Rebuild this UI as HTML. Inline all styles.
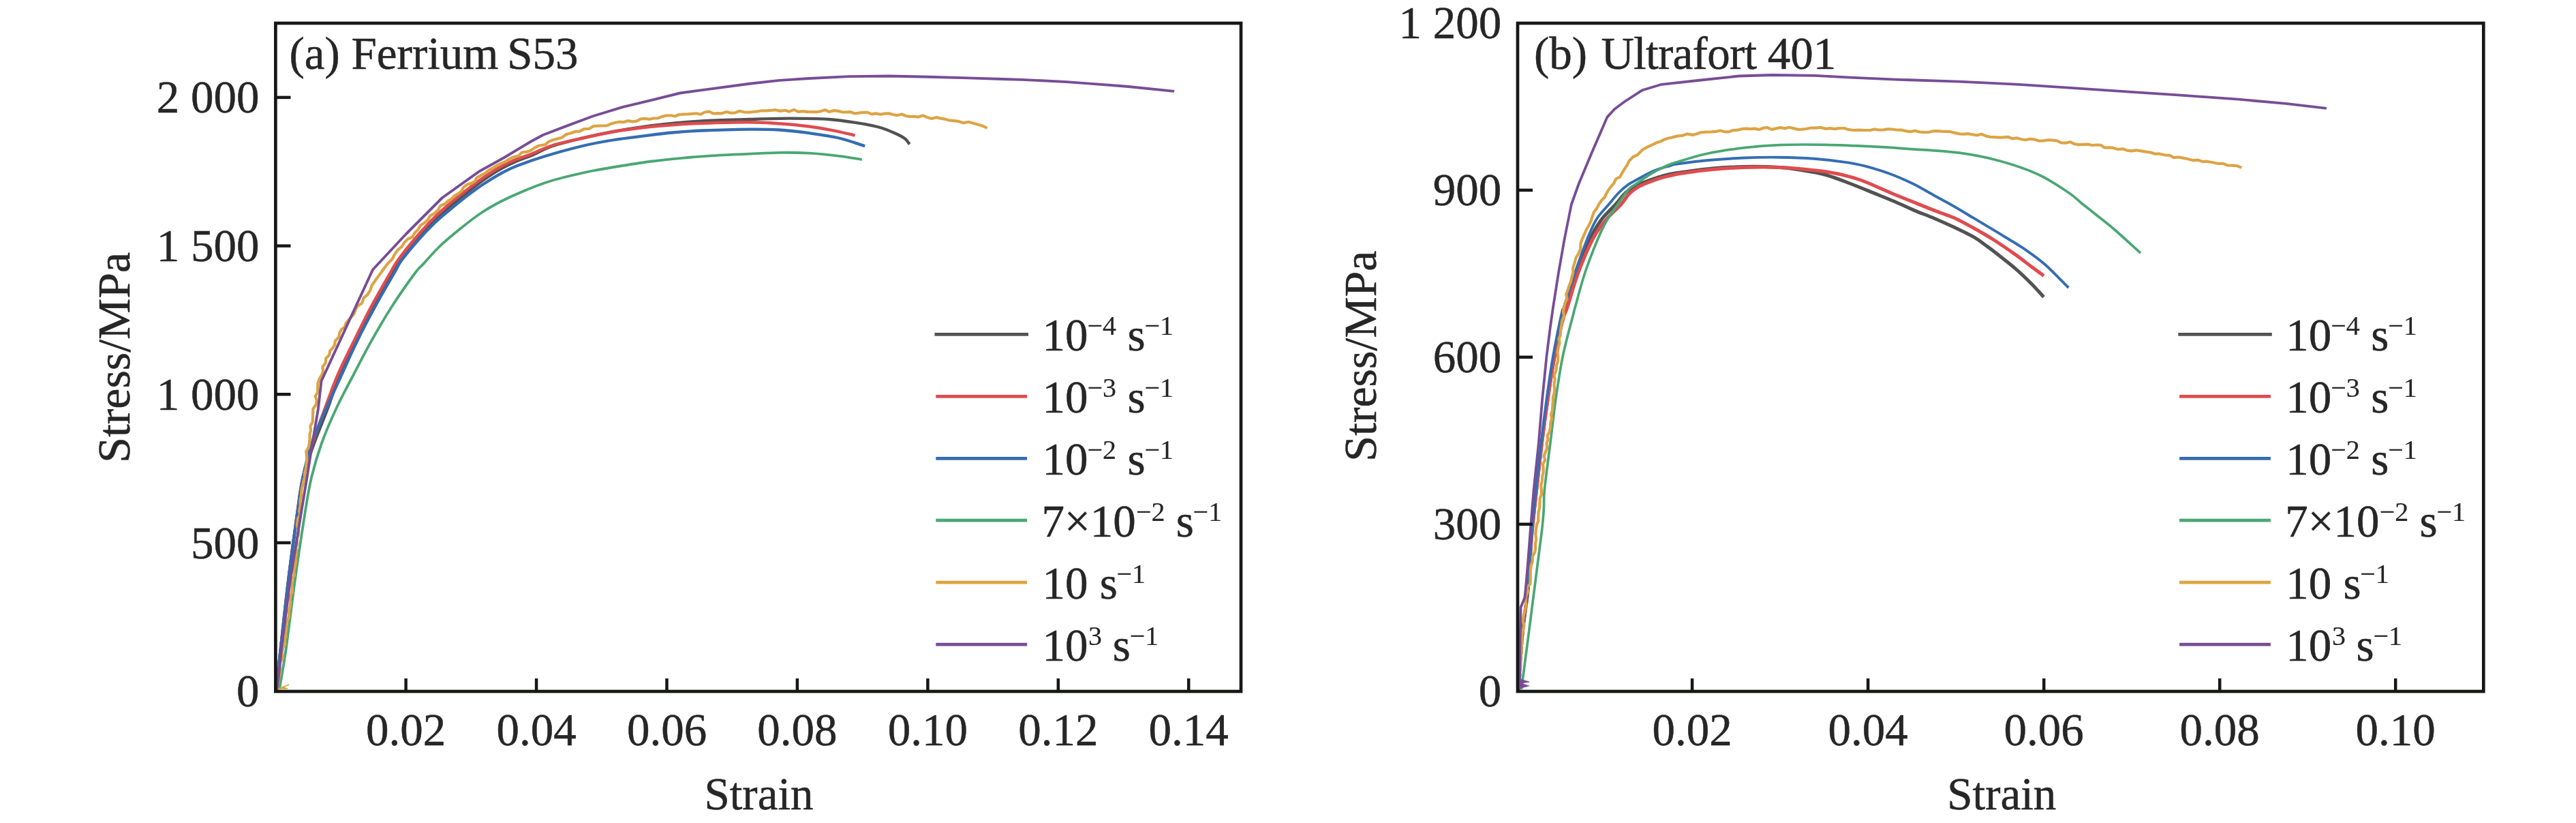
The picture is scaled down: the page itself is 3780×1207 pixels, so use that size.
<!DOCTYPE html>
<html><head><meta charset="utf-8"><title>Stress-strain curves</title>
<style>
html,body{margin:0;padding:0;background:#fff;}
body{width:3780px;height:1207px;overflow:hidden;}
svg{display:block;will-change:transform;}
text{font-family:"Liberation Serif","Times New Roman",serif;fill:#262626;stroke:#262626;stroke-width:0.5px;}
</style></head>
<body>
<svg width="3780" height="1207" viewBox="0 0 3780 1207">
<rect width="3780" height="1207" fill="#fff"/>
<g id="curves">
<path d="M405.0,1013.0C407.3,992.0 408.9,977.2 412.0,950.0C415.1,922.8 419.2,883.3 423.3,850.0C427.4,816.7 433.1,775.0 436.7,750.0C440.3,725.0 440.6,716.7 444.7,700.0C448.8,683.3 455.0,666.7 461.0,650.0C467.0,633.3 474.2,616.7 480.5,600.0C486.8,583.3 491.6,566.7 498.5,550.0C505.4,533.3 513.8,516.7 522.0,500.0C530.2,483.3 538.6,466.7 547.5,450.0C556.4,433.3 568.9,411.6 575.5,400.0C582.1,388.4 581.1,388.7 587.0,380.5C592.9,372.3 602.9,360.2 611.0,351.0C619.1,341.8 627.3,333.0 635.5,325.0C643.7,317.0 651.9,309.9 660.0,303.0C668.1,296.1 676.0,289.8 684.0,283.5C692.0,277.2 700.0,270.7 708.0,265.0C716.0,259.3 723.9,254.0 732.0,249.3C740.1,244.6 748.5,240.6 756.5,237.0C764.5,233.4 770.9,231.8 780.0,228.0C789.1,224.2 798.7,218.2 811.2,214.0C823.7,209.8 840.4,206.0 855.0,202.5C869.6,199.0 884.1,195.9 898.7,193.2C913.3,190.5 927.9,188.2 942.5,186.2C957.1,184.2 971.6,182.4 986.2,181.0C1000.8,179.6 1011.0,178.5 1030.0,177.5C1049.0,176.5 1078.6,175.7 1100.0,175.0C1121.4,174.3 1138.8,173.6 1158.3,173.6C1177.8,173.6 1199.7,173.8 1216.7,175.0C1233.7,176.2 1248.2,178.7 1260.4,180.6C1272.6,182.5 1280.8,184.1 1289.6,186.5C1298.3,188.9 1306.6,192.4 1312.9,195.2C1319.2,197.9 1323.8,200.3 1327.5,203.0C1331.2,205.7 1332.4,208.7 1334.8,211.5" fill="none" stroke="#525252" stroke-width="4.4" stroke-linejoin="round" stroke-linecap="butt"/>
<path d="M405.0,1013.0C407.3,992.0 408.9,977.2 412.0,950.0C415.1,922.8 419.2,883.3 423.3,850.0C427.4,816.7 433.0,775.0 436.5,750.0C440.0,725.0 440.8,716.7 444.5,700.0C448.2,683.3 453.2,666.7 458.5,650.0C463.8,633.3 470.3,616.7 476.5,600.0C482.7,583.3 488.3,566.7 495.5,550.0C502.7,533.3 511.3,516.7 519.5,500.0C527.7,483.3 535.7,466.7 544.6,450.0C553.5,433.3 566.2,411.5 572.8,400.0C579.4,388.5 578.3,389.2 584.3,381.0C590.3,372.8 600.5,360.1 608.6,350.5C616.7,340.9 624.8,331.8 632.9,323.5C641.0,315.2 649.1,308.1 657.2,301.0C665.3,293.9 673.3,287.5 681.4,281.2C689.5,274.9 697.6,268.7 705.7,263.0C713.8,257.3 721.9,251.9 730.0,247.2C738.1,242.5 746.2,238.5 754.3,235.0C762.4,231.5 769.1,230.0 778.6,226.3C788.1,222.6 798.5,216.9 811.2,213.0C823.9,209.1 840.4,205.8 855.0,202.6C869.6,199.3 884.1,196.1 898.7,193.5C913.3,190.9 927.9,188.9 942.5,187.2C957.1,185.5 971.6,184.4 986.2,183.3C1000.8,182.2 1011.0,181.5 1030.0,180.8C1049.0,180.1 1081.0,179.2 1100.0,179.3C1119.0,179.4 1129.1,180.2 1143.7,181.2C1158.3,182.2 1174.4,183.8 1187.5,185.5C1200.6,187.2 1211.3,189.1 1222.5,191.3C1233.7,193.5 1243.9,196.2 1254.6,198.6" fill="none" stroke="#e04b4f" stroke-width="4.4" stroke-linejoin="round" stroke-linecap="butt"/>
<path d="M405.0,1013.0C407.3,992.0 408.9,977.2 412.0,950.0C415.1,922.8 419.2,883.3 423.3,850.0C427.4,816.7 433.2,775.0 436.7,750.0C440.2,725.0 441.0,716.7 444.5,700.0C448.0,683.3 451.9,666.7 457.5,650.0C463.1,633.3 471.1,616.7 478.4,600.0C485.7,583.3 493.5,566.7 501.1,550.0C508.7,533.3 516.0,516.7 524.2,500.0C532.4,483.3 541.1,466.7 550.2,450.0C559.3,433.3 572.2,411.3 578.7,400.0C585.2,388.7 583.3,389.9 589.1,382.0C594.9,374.1 605.3,361.7 613.4,352.5C621.5,343.3 629.6,334.8 637.7,327.0C645.8,319.2 653.9,312.8 662.0,306.0C670.1,299.2 678.2,292.6 686.3,286.5C694.4,280.4 702.5,274.5 710.6,269.2C718.7,263.9 726.8,258.9 734.9,254.5C743.0,250.1 748.4,247.2 759.2,243.0C770.1,238.8 784.0,233.8 800.0,229.0C816.0,224.2 838.5,217.9 855.0,214.0C871.5,210.1 884.1,207.9 898.7,205.5C913.3,203.1 927.9,201.4 942.5,199.6C957.1,197.8 971.6,195.8 986.2,194.5C1000.8,193.2 1011.0,192.3 1030.0,191.5C1049.0,190.7 1081.0,189.8 1100.0,189.6C1119.0,189.4 1129.1,189.6 1143.7,190.5C1158.3,191.4 1172.9,193.2 1187.5,195.2C1202.1,197.2 1217.6,199.3 1231.2,202.5C1244.8,205.7 1256.5,210.3 1269.2,214.2" fill="none" stroke="#346db3" stroke-width="4.3" stroke-linejoin="round" stroke-linecap="butt"/>
<path d="M410.0,1011.0C413.3,990.7 416.2,976.8 420.0,950.0C423.8,923.2 428.4,883.3 433.0,850.0C437.6,816.7 443.9,775.0 447.9,750.0C451.9,725.0 453.1,716.7 457.1,700.0C461.1,683.3 466.0,666.7 472.0,650.0C478.0,633.3 485.2,616.7 493.0,600.0C500.8,583.3 509.8,566.7 518.5,550.0C527.2,533.3 535.6,516.7 545.0,500.0C554.4,483.3 564.0,466.7 574.7,450.0C585.4,433.3 601.7,410.4 609.4,400.0C617.1,389.6 614.8,394.0 620.7,387.6C626.6,381.2 635.7,370.4 645.0,361.5C654.3,352.6 666.5,342.7 676.6,334.5C686.7,326.3 696.0,319.0 705.7,312.5C715.4,306.0 724.8,300.8 734.9,295.5C745.0,290.2 755.6,285.6 766.5,281.0C777.4,276.4 790.1,271.4 800.0,268.0C809.9,264.6 814.2,263.4 825.8,260.5C837.4,257.6 855.0,253.4 869.6,250.5C884.2,247.6 898.7,245.3 913.3,243.0C927.9,240.7 942.5,238.4 957.1,236.5C971.7,234.6 986.2,233.2 1000.8,231.8C1015.4,230.4 1028.1,229.3 1044.6,228.3C1061.1,227.3 1083.5,226.3 1100.0,225.6C1116.5,224.8 1129.1,224.0 1143.7,223.8C1158.3,223.6 1172.9,223.8 1187.5,224.6C1202.1,225.4 1218.3,227.2 1231.2,228.8C1244.1,230.4 1253.6,232.3 1264.8,234.0" fill="none" stroke="#4aa773" stroke-width="3.8" stroke-linejoin="round" stroke-linecap="butt"/>
<path d="M407.0,1012.0 L406.9,1005.8 L408.9,1000.2 L409.1,994.5 L410.7,989.1 L411.6,983.4 L410.5,977.3 L411.2,971.1 L415.1,965.0 L414.0,957.6 L415.1,949.9 L418.5,945.0 L417.4,939.3 L419.6,933.8 L419.2,927.7 L420.7,921.6 L419.8,915.1 L422.5,909.0 L424.3,902.6 L424.0,895.8 L425.7,889.3 L426.4,882.6 L425.2,875.7 L428.5,869.4 L428.8,862.8 L428.5,856.2 L428.3,849.8 L432.0,843.8 L431.3,837.1 L432.9,830.6 L434.1,824.0 L434.1,817.1 L435.5,810.4 L434.2,803.5 L436.3,797.0 L435.6,790.3 L437.9,784.0 L438.2,777.7 L435.9,771.4 L436.6,765.5 L437.4,760.0 L440.6,755.0 L439.2,750.0 L440.8,741.4 L440.5,733.9 L442.0,727.6 L442.3,721.8 L442.9,716.5 L444.5,711.4 L445.2,705.9 L447.1,700.2 L447.1,693.8 L448.8,687.7 L449.3,681.4 L450.5,675.2 L450.2,668.8 L449.2,662.3 L452.6,656.4 L453.9,650.3 L454.6,644.0 L454.5,637.5 L456.0,631.4 L455.4,624.8 L458.7,619.0 L458.9,612.5 L459.1,606.1 L459.5,599.7 L463.4,594.0 L464.9,587.8 L462.7,581.0 L466.3,575.2 L466.1,568.7 L466.5,562.2 L468.5,556.1 L471.9,550.3 L474.1,544.7 L473.4,537.8 L477.7,532.6 L478.2,525.8 L483.0,520.8 L484.3,514.6 L488.5,510.0 L491.2,505.2 L491.9,500.0 L497.1,494.3 L498.5,487.8 L501.1,482.9 L505.9,479.8 L507.6,474.0 L511.5,469.4 L515.6,464.8 L519.6,460.2 L521.6,454.3 L524.6,449.1 L531.2,444.5 L533.5,437.1 L539.4,432.1 L543.2,425.8 L545.8,418.3 L550.4,411.8 L554.8,405.6 L558.9,400.3 L562.8,394.7 L566.1,390.2 L570.0,385.5 L575.6,380.1 L579.3,372.6 L584.1,366.3 L589.7,361.7 L593.4,355.5 L598.4,350.7 L605.0,347.5 L608.6,341.5 L613.5,336.7 L616.8,330.7 L622.6,327.0 L628.2,322.2 L631.3,316.3 L637.7,312.9 L642.8,308.0 L646.3,301.8 L652.6,299.2 L657.1,294.9 L662.4,291.8 L666.6,287.1 L672.2,284.2 L677.1,280.4 L680.4,274.5 L685.3,270.8 L691.4,268.8 L696.7,266.0 L700.0,260.4 L705.6,257.4 L711.6,254.1 L717.2,249.6 L723.6,246.1 L729.7,242.4 L735.9,239.3 L742.3,236.8 L747.9,232.8 L754.1,230.1 L760.8,228.6 L766.0,223.5 L772.8,222.7 L778.9,220.8 L784.6,216.6 L790.5,213.8 L800.4,212.0 L804.6,208.1 L810.4,205.5 L817.3,203.7 L824.5,201.8 L830.6,197.1 L837.7,195.2 L844.1,192.9 L850.4,192.6 L857.6,189.0 L864.6,188.8 L870.4,185.2 L876.9,184.7 L884.3,184.5 L890.2,184.4 L896.0,181.8 L902.1,180.0 L908.5,178.7 L915.1,179.2 L921.4,177.1 L928.1,178.4 L934.3,177.6 L940.3,174.4 L946.6,173.9 L953.1,174.9 L959.3,173.5 L965.6,173.3 L971.6,170.9 L977.8,169.5 L984.1,169.3 L990.5,170.5 L996.6,168.0 L1002.9,167.6 L1009.1,167.3 L1015.4,166.8 L1021.7,166.3 L1028.1,167.7 L1034.2,164.5 L1040.5,163.6 L1047.0,166.7 L1053.2,166.1 L1059.3,166.3 L1066.0,164.0 L1072.4,165.7 L1078.7,165.4 L1085.2,162.8 L1092.2,164.5 L1100.0,164.7 L1105.7,164.0 L1111.8,163.3 L1118.1,162.3 L1124.7,162.4 L1131.4,161.9 L1138.2,161.2 L1145.0,162.9 L1151.7,161.8 L1158.3,163.6 L1164.9,160.9 L1171.5,163.9 L1178.3,163.2 L1185.0,164.1 L1191.7,164.1 L1198.3,164.2 L1204.7,163.1 L1210.9,161.2 L1216.7,164.0 L1223.8,162.1 L1230.3,162.9 L1236.4,164.5 L1242.4,164.3 L1248.4,164.2 L1254.2,166.5 L1260.4,165.6 L1266.7,164.9 L1273.0,164.9 L1279.1,167.4 L1285.4,166.4 L1291.6,167.8 L1298.0,166.6 L1304.3,166.4 L1310.4,168.0 L1316.6,169.3 L1323.0,167.4 L1329.1,170.0 L1335.3,170.9 L1341.6,170.9 L1347.8,171.6 L1354.5,169.3 L1360.8,172.3 L1367.3,174.0 L1374.2,172.1 L1380.4,173.7 L1386.3,174.6 L1391.7,176.3 L1400.1,177.1 L1407.3,178.2 L1413.8,180.3 L1421.2,178.8 L1428.2,180.7 L1435.1,182.8 L1442.0,184.7 L1448.5,187.9" fill="none" stroke="#dca444" stroke-width="4.2" stroke-linejoin="round" stroke-linecap="butt"/>
<path d="M406.0,1013.0 L408.0,1000.0 L413.2,950.0 L426.0,850.0 L442.3,750.0 L450.5,700.0 L458.4,650.0 L466.9,600.0 L471.5,559.0 L547.0,395.5 L596.0,343.0 L649.0,290.0 L703.0,251.5 L740.0,231.0 L780.0,207.0 L796.7,198.0 L831.7,184.6 L869.6,170.5 L913.3,157.2 L957.1,146.7 L997.9,136.5 L1030.0,132.1 L1100.0,122.8 L1143.7,117.9 L1187.5,115.0 L1245.8,112.1 L1304.2,111.5 L1362.5,112.7 L1420.8,114.4 L1479.2,116.2 L1500.0,116.9 L1565.6,120.1 L1609.4,123.4 L1653.1,126.7 L1723.1,133.9" fill="none" stroke="#774d96" stroke-width="3.9" stroke-linejoin="round" stroke-linecap="butt"/>
<path d="M409,1010 L424,1004 L415,1008 L422,1010 Z" fill="#dca444" stroke="#dca444" stroke-width="1.5"/>
<path d="M2228.0,1013.0C2229.2,993.7 2230.4,972.0 2231.7,955.0C2233.0,938.0 2234.3,925.8 2236.0,911.2C2237.7,896.6 2240.4,882.1 2241.9,867.5C2243.4,852.9 2244.0,838.3 2245.0,823.7C2246.0,809.1 2246.4,797.4 2248.0,780.0C2249.6,762.6 2252.1,741.4 2254.5,719.6C2256.9,697.8 2259.8,671.5 2262.5,649.3C2265.2,627.1 2267.9,607.2 2271.0,586.2C2274.1,565.2 2277.4,542.5 2281.0,523.1C2284.6,503.7 2289.5,482.2 2292.5,470.0C2295.5,457.8 2295.6,461.7 2299.0,450.0C2302.4,438.3 2307.2,416.7 2313.0,400.0C2318.8,383.3 2327.3,363.0 2333.5,350.0C2339.7,337.0 2343.8,330.3 2350.0,322.0C2356.2,313.7 2364.8,306.3 2370.5,300.0C2376.2,293.7 2379.4,288.3 2384.0,284.0C2388.6,279.7 2393.3,276.8 2398.0,274.0C2402.7,271.2 2407.3,269.5 2412.0,267.5C2416.7,265.5 2422.0,263.7 2426.4,262.2C2430.8,260.7 2434.7,259.4 2438.6,258.3C2442.5,257.2 2444.9,256.5 2450.0,255.5C2455.1,254.5 2458.7,253.9 2469.2,252.5C2479.7,251.1 2497.8,248.3 2512.9,247.0C2528.0,245.7 2543.7,244.8 2560.0,244.5C2576.3,244.2 2596.8,244.6 2611.0,245.5C2625.2,246.4 2633.7,247.9 2645.0,249.7C2656.3,251.5 2667.8,253.4 2679.1,256.5C2690.4,259.6 2701.8,264.2 2713.1,268.5C2724.4,272.8 2735.8,277.5 2747.1,282.1C2758.4,286.7 2770.8,291.6 2781.1,296.0C2791.4,300.4 2799.7,304.6 2809.2,308.6C2818.7,312.6 2828.6,316.1 2838.3,320.2C2848.0,324.3 2857.8,328.7 2867.5,333.3C2877.2,337.9 2888.9,343.4 2896.7,347.9C2904.5,352.3 2909.1,356.3 2914.2,360.0C2919.3,363.7 2920.4,364.4 2927.5,370.0C2934.6,375.6 2947.9,385.8 2956.7,393.3C2965.4,400.8 2972.9,408.1 2980.0,415.2C2987.1,422.2 2992.7,428.8 2999.0,435.6" fill="none" stroke="#525252" stroke-width="5.0" stroke-linejoin="round" stroke-linecap="butt"/>
<path d="M2228.0,1013.0C2229.2,993.7 2230.4,972.0 2231.7,955.0C2233.0,938.0 2234.3,925.8 2236.0,911.2C2237.7,896.6 2240.4,882.1 2241.9,867.5C2243.4,852.9 2244.0,838.3 2245.0,823.7C2246.0,809.1 2246.4,797.4 2248.0,780.0C2249.6,762.6 2252.1,741.4 2254.5,719.6C2256.9,697.8 2259.8,671.5 2262.5,649.3C2265.2,627.1 2267.9,607.2 2271.0,586.2C2274.1,565.2 2277.3,542.5 2281.0,523.1C2284.7,503.7 2289.8,482.2 2293.0,470.0C2296.2,457.8 2296.3,461.7 2300.1,450.0C2303.9,438.3 2309.7,416.7 2315.9,400.0C2322.1,383.3 2330.7,363.0 2337.5,350.0C2344.3,337.0 2350.2,330.3 2357.0,322.0C2363.8,313.7 2373.0,306.2 2378.5,300.0C2384.0,293.8 2386.1,289.1 2390.0,285.0C2393.9,280.9 2398.0,278.1 2402.0,275.5C2406.0,272.9 2409.9,271.3 2414.0,269.5C2418.1,267.7 2422.3,266.1 2426.4,264.6C2430.5,263.1 2434.7,261.7 2438.6,260.6C2442.5,259.5 2444.9,258.9 2450.0,257.8C2455.1,256.7 2458.7,255.6 2469.2,254.0C2479.7,252.4 2497.8,249.9 2512.9,248.5C2528.0,247.1 2543.7,246.0 2560.0,245.5C2576.3,245.0 2594.0,244.8 2611.0,245.5C2628.0,246.2 2647.9,248.1 2662.1,249.7C2676.3,251.2 2684.8,252.4 2696.1,254.8C2707.4,257.2 2718.8,260.1 2730.1,264.0C2741.4,267.9 2755.8,274.8 2764.1,278.3C2772.4,281.8 2772.5,282.1 2780.0,285.2C2787.5,288.3 2799.5,293.0 2809.2,296.9C2818.9,300.8 2828.6,304.8 2838.3,308.6C2848.0,312.4 2857.8,315.1 2867.5,319.5C2877.2,323.9 2887.0,329.4 2896.7,334.8C2906.4,340.2 2915.9,345.6 2925.9,352.0C2935.9,358.4 2947.7,366.5 2956.7,372.9C2965.7,379.3 2972.9,385.1 2980.0,390.4C2987.1,395.6 2992.7,399.7 2999.0,404.4" fill="none" stroke="#e04b4f" stroke-width="5.0" stroke-linejoin="round" stroke-linecap="butt"/>
<path d="M2228.0,1013.0C2229.2,993.7 2230.4,972.0 2231.7,955.0C2233.0,938.0 2234.3,925.8 2236.0,911.2C2237.7,896.6 2240.4,882.1 2241.9,867.5C2243.4,852.9 2243.8,838.3 2244.8,823.7C2245.8,809.1 2246.2,797.4 2247.7,780.0C2249.2,762.6 2251.4,741.4 2253.7,719.6C2256.0,697.8 2258.9,671.5 2261.5,649.3C2264.1,627.1 2266.5,607.2 2269.4,586.2C2272.3,565.2 2275.2,544.1 2278.9,523.1C2282.6,502.1 2288.8,472.2 2291.5,460.0C2294.2,447.8 2291.7,460.0 2295.0,450.0C2298.3,440.0 2305.5,416.7 2311.2,400.0C2316.9,383.3 2324.1,363.2 2329.4,350.0C2334.7,336.8 2337.8,329.3 2343.0,321.0C2348.2,312.7 2355.2,306.3 2360.5,300.0C2365.8,293.7 2370.1,288.0 2375.0,283.0C2379.9,278.0 2385.5,273.4 2390.0,270.2C2394.5,266.9 2398.0,265.7 2402.0,263.5C2406.0,261.3 2409.9,259.0 2414.0,256.9C2418.1,254.8 2422.3,252.5 2426.4,250.8C2430.5,249.1 2434.7,247.8 2438.6,246.5C2442.5,245.2 2446.4,244.3 2450.0,243.3C2453.6,242.3 2451.4,241.8 2460.4,240.5C2469.4,239.2 2487.6,236.8 2504.2,235.3C2520.8,233.8 2542.2,232.3 2560.0,231.5C2577.8,230.7 2594.0,230.5 2611.0,230.7C2628.0,230.9 2645.1,231.4 2662.1,232.7C2679.1,234.0 2698.9,236.4 2713.1,238.7C2727.3,241.0 2735.9,243.2 2747.1,246.3C2758.2,249.4 2769.7,253.4 2780.0,257.5C2790.3,261.6 2799.5,265.7 2809.2,270.6C2818.9,275.5 2828.6,281.4 2838.3,286.7C2848.0,292.0 2857.8,297.1 2867.5,302.7C2877.2,308.3 2887.0,314.4 2896.7,320.2C2906.4,326.0 2918.3,333.1 2925.9,337.7C2933.5,342.2 2934.6,342.9 2942.1,347.5C2949.6,352.1 2961.5,358.9 2971.2,365.6C2980.9,372.3 2989.7,378.1 3000.4,387.5C3011.1,396.9 3023.7,410.5 3035.4,422.0" fill="none" stroke="#346db3" stroke-width="3.9" stroke-linejoin="round" stroke-linecap="butt"/>
<path d="M2232.5,1011.0C2242.4,934.0 2256.7,828.6 2262.3,780.0C2267.9,731.4 2264.2,741.4 2266.3,719.6C2268.4,697.8 2272.2,671.5 2275.0,649.3C2277.8,627.1 2279.8,607.2 2282.8,586.2C2285.8,565.2 2288.8,544.1 2293.1,523.1C2297.4,502.1 2305.8,472.2 2308.9,460.0C2312.0,447.8 2308.7,460.0 2311.5,450.0C2314.3,440.0 2320.2,416.7 2325.8,400.0C2331.4,383.3 2339.5,362.8 2344.9,350.0C2350.3,337.2 2353.2,331.3 2358.0,323.0C2362.8,314.7 2368.4,307.6 2373.7,300.0C2379.0,292.4 2385.3,282.7 2390.0,277.5C2394.7,272.3 2398.0,271.8 2402.0,269.0C2406.0,266.2 2409.9,263.2 2414.0,260.5C2418.1,257.8 2422.3,254.9 2426.4,252.6C2430.5,250.3 2434.7,248.4 2438.6,246.5C2442.5,244.6 2446.4,242.8 2450.0,241.3C2453.6,239.9 2451.4,240.4 2460.4,237.8C2469.4,235.2 2487.6,229.0 2504.2,225.5C2520.8,222.0 2542.2,218.8 2560.0,216.6C2577.8,214.4 2591.2,213.3 2611.0,212.6C2630.8,211.9 2656.4,211.9 2679.1,212.3C2701.8,212.7 2726.9,213.9 2747.1,214.9C2767.2,215.9 2778.7,216.8 2800.0,218.3C2821.3,219.9 2852.8,221.3 2875.0,224.2C2897.2,227.1 2913.9,230.5 2933.3,235.8C2952.8,241.1 2974.7,248.4 2991.7,256.2C3008.7,264.0 3024.9,275.5 3035.4,282.5C3045.9,289.5 3048.1,292.9 3054.4,298.0C3060.7,303.1 3065.3,306.6 3073.3,313.0C3081.3,319.4 3091.2,326.8 3102.5,336.5C3113.8,346.2 3128.2,359.5 3141.0,371.0" fill="none" stroke="#4aa773" stroke-width="3.7" stroke-linejoin="round" stroke-linecap="butt"/>
<path d="M2228.5,1010.0 L2228.4,1004.0 L2228.4,998.1 L2230.7,990.0 L2229.3,984.4 L2231.4,978.1 L2231.4,971.1 L2231.1,963.9 L2233.1,956.8 L2232.1,949.9 L2233.8,943.3 L2233.1,936.5 L2233.5,929.9 L2235.0,923.4 L2236.6,917.2 L2234.8,911.1 L2235.7,903.0 L2237.6,895.5 L2239.2,888.6 L2238.7,882.0 L2239.2,874.2 L2242.2,867.7 L2240.6,861.2 L2245.4,856.6 L2245.7,849.9 L2245.7,844.1 L2245.8,837.0 L2246.6,829.8 L2248.7,823.9 L2248.8,816.6 L2252.4,809.3 L2253.2,804.0 L2253.0,797.9 L2254.2,791.2 L2253.3,783.4 L2254.1,774.9 L2255.1,769.6 L2257.3,763.9 L2257.2,757.5 L2257.6,750.9 L2259.2,744.3 L2259.5,737.6 L2259.7,731.1 L2261.9,725.2 L2262.1,719.7 L2261.3,712.0 L2262.9,705.2 L2263.2,698.7 L2264.7,692.6 L2264.8,686.7 L2264.0,680.7 L2267.2,674.7 L2265.6,668.5 L2267.8,663.1 L2270.1,657.3 L2269.5,649.8 L2271.4,644.7 L2270.8,638.8 L2273.7,632.9 L2275.0,626.6 L2275.2,620.0 L2277.0,613.8 L2276.0,607.6 L2277.9,602.1 L2278.3,595.2 L2278.8,588.8 L2278.9,582.6 L2280.5,576.7 L2281.3,570.6 L2280.4,564.1 L2281.7,557.4 L2280.6,550.2 L2283.4,543.3 L2284.0,536.2 L2286.0,529.6 L2286.2,523.2 L2285.5,515.9 L2286.8,509.2 L2288.6,503.0 L2287.5,496.8 L2289.8,491.5 L2290.2,483.3 L2291.4,476.5 L2292.3,469.8 L2295.3,463.7 L2293.8,457.2 L2295.2,449.9 L2296.6,444.4 L2299.3,438.5 L2298.2,431.5 L2300.6,425.5 L2302.2,420.0 L2305.0,413.0 L2306.4,406.7 L2308.3,400.3 L2308.2,392.9 L2310.5,385.8 L2312.6,377.9 L2316.4,371.8 L2319.2,364.7 L2319.5,356.5 L2322.2,349.6 L2325.0,343.2 L2327.7,337.0 L2331.1,331.2 L2334.3,325.1 L2336.4,318.2 L2338.8,311.3 L2343.2,305.6 L2346.1,299.8 L2350.3,293.8 L2354.8,289.0 L2357.5,283.3 L2360.8,277.7 L2364.8,272.7 L2368.4,268.4 L2371.2,262.4 L2377.0,259.7 L2380.3,253.6 L2384.0,247.6 L2387.9,241.6 L2390.7,235.8 L2393.2,233.5 L2395.7,230.5 L2403.0,227.0 L2410.0,219.8 L2416.4,216.1 L2423.5,212.8 L2430.8,209.3 L2436.5,207.6 L2441.9,204.7 L2447.8,202.7 L2454.3,201.4 L2461.1,199.6 L2468.3,198.9 L2475.6,196.4 L2483.9,197.9 L2490.2,196.2 L2496.7,194.0 L2503.7,193.7 L2511.0,193.4 L2518.7,192.8 L2524.4,191.5 L2530.7,193.3 L2537.0,193.3 L2543.3,191.1 L2549.7,190.7 L2556.1,189.1 L2562.4,188.7 L2568.7,189.2 L2575.0,188.6 L2581.3,190.1 L2587.4,187.7 L2593.7,187.1 L2600.0,189.9 L2606.2,188.4 L2612.6,187.1 L2619.1,188.4 L2625.7,186.7 L2632.2,188.4 L2638.5,189.9 L2644.5,189.6 L2650.0,189.0 L2658.0,187.5 L2664.8,187.7 L2671.4,186.9 L2679.2,188.9 L2685.4,188.2 L2692.0,189.2 L2699.1,188.1 L2706.2,188.0 L2713.2,190.2 L2719.9,191.0 L2726.3,190.7 L2732.2,190.8 L2738.0,191.0 L2744.1,191.0 L2750.8,189.5 L2758.3,190.7 L2763.9,190.3 L2770.0,189.4 L2776.3,189.5 L2782.9,190.5 L2789.7,190.6 L2796.5,192.1 L2803.3,193.1 L2810.1,191.7 L2816.6,193.5 L2823.1,193.9 L2829.6,194.0 L2836.2,192.4 L2842.7,192.2 L2849.1,192.6 L2855.6,192.8 L2862.1,193.2 L2868.5,194.9 L2874.9,196.3 L2881.4,196.6 L2888.0,196.1 L2894.4,197.3 L2900.8,198.4 L2907.5,196.8 L2913.8,199.4 L2920.2,200.9 L2926.7,201.1 L2933.2,201.6 L2939.8,201.3 L2946.4,200.8 L2952.7,203.3 L2959.3,202.3 L2965.7,204.2 L2972.1,205.2 L2978.8,203.8 L2985.2,204.4 L2991.6,206.6 L2998.2,206.5 L3004.9,205.3 L3011.6,205.7 L3018.2,206.4 L3024.5,209.4 L3031.1,209.7 L3037.7,208.2 L3043.8,211.0 L3049.8,212.1 L3056.7,211.8 L3063.5,211.6 L3070.0,213.0 L3076.6,212.5 L3082.9,212.9 L3088.6,216.7 L3094.5,216.4 L3100.0,216.7 L3107.7,219.0 L3115.0,218.3 L3121.3,220.6 L3127.8,221.3 L3134.7,220.3 L3141.7,221.4 L3148.6,222.6 L3155.5,223.5 L3162.3,225.7 L3169.4,225.7 L3176.3,227.3 L3183.3,227.6 L3189.9,231.1 L3197.1,230.5 L3203.9,231.9 L3211.0,233.3 L3218.1,235.2 L3225.5,234.6 L3232.1,237.1 L3238.5,236.7 L3246.9,238.3 L3254.0,239.8 L3261.9,239.8 L3268.2,242.3 L3275.3,242.6 L3282.5,243.2 L3289.3,245.9" fill="none" stroke="#dca444" stroke-width="4.2" stroke-linejoin="round" stroke-linecap="butt"/>
<path d="M2229.0,1012.0 L2230.2,1000.0 L2230.5,950.0 L2231.5,890.8 L2237.5,876.2 L2240.0,850.0 L2243.3,809.2 L2245.5,780.0 L2250.5,719.6 L2257.8,650.0 L2263.1,586.2 L2269.4,523.1 L2274.8,480.0 L2279.1,450.0 L2287.0,400.0 L2295.8,350.0 L2305.8,300.0 L2316.5,270.0 L2335.0,225.8 L2358.3,171.9 L2369.2,160.0 L2384.0,149.0 L2410.1,132.2 L2438.1,123.8 L2495.9,117.5 L2551.8,111.5 L2600.0,110.0 L2663.5,110.8 L2715.0,113.6 L2787.5,116.8 L2875.0,119.6 L2962.5,123.8 L3050.0,129.6 L3120.0,134.3 L3192.3,139.2 L3284.7,145.7 L3353.9,151.9 L3413.9,158.9" fill="none" stroke="#774d96" stroke-width="3.8" stroke-linejoin="round" stroke-linecap="butt"/>
<path d="M2230,996 L2244,1000 L2231,1002 L2243,1006 L2231,1009 Z" fill="#774d96" stroke="#774d96" stroke-width="1.2"/>
</g>
<g id="legend">
<line x1="1371.5" y1="490.4" x2="1509.0" y2="490.4" stroke="#525252" stroke-width="4.7"/>
<line x1="1373.3" y1="581.4" x2="1507.1" y2="581.4" stroke="#e04b4f" stroke-width="4.7"/>
<line x1="1373.3" y1="672.4" x2="1507.1" y2="672.4" stroke="#346db3" stroke-width="4.7"/>
<line x1="1373.3" y1="763.1" x2="1507.1" y2="763.1" stroke="#4aa773" stroke-width="4.7"/>
<line x1="1373.3" y1="854.1" x2="1507.1" y2="854.1" stroke="#dca444" stroke-width="4.7"/>
<line x1="1373.3" y1="945.2" x2="1507.1" y2="945.2" stroke="#774d96" stroke-width="4.7"/>
<line x1="3196.3" y1="490.4" x2="3333.8" y2="490.4" stroke="#525252" stroke-width="4.7"/>
<line x1="3198.1" y1="581.4" x2="3331.9" y2="581.4" stroke="#e04b4f" stroke-width="4.7"/>
<line x1="3198.1" y1="672.4" x2="3331.9" y2="672.4" stroke="#346db3" stroke-width="4.7"/>
<line x1="3198.1" y1="763.1" x2="3331.9" y2="763.1" stroke="#4aa773" stroke-width="4.7"/>
<line x1="3198.1" y1="854.1" x2="3331.9" y2="854.1" stroke="#dca444" stroke-width="4.7"/>
<line x1="3198.1" y1="945.2" x2="3331.9" y2="945.2" stroke="#774d96" stroke-width="4.7"/>
</g>
<g id="axes">
<rect x="404.4" y="34.0" width="1416.6" height="980.0" fill="none" stroke="#161816" stroke-width="4.7" stroke-linejoin="miter"/>
<rect x="2227.0" y="34.0" width="1417.3000000000002" height="980.0" fill="none" stroke="#161816" stroke-width="4.7" stroke-linejoin="miter"/>
<line x1="595.6" y1="1014.0" x2="595.6" y2="995" stroke="#161816" stroke-width="4.5"/>
<line x1="787.1" y1="1014.0" x2="787.1" y2="995" stroke="#161816" stroke-width="4.5"/>
<line x1="978.5" y1="1014.0" x2="978.5" y2="995" stroke="#161816" stroke-width="4.5"/>
<line x1="1169.9" y1="1014.0" x2="1169.9" y2="995" stroke="#161816" stroke-width="4.5"/>
<line x1="1361.4" y1="1014.0" x2="1361.4" y2="995" stroke="#161816" stroke-width="4.5"/>
<line x1="1552.8" y1="1014.0" x2="1552.8" y2="995" stroke="#161816" stroke-width="4.5"/>
<line x1="1744.2" y1="1014.0" x2="1744.2" y2="995" stroke="#161816" stroke-width="4.5"/>
<line x1="404.4" y1="796.0" x2="426.5" y2="796.0" stroke="#161816" stroke-width="4.5"/>
<line x1="404.4" y1="578.3" x2="426.5" y2="578.3" stroke="#161816" stroke-width="4.5"/>
<line x1="404.4" y1="360.6" x2="426.5" y2="360.6" stroke="#161816" stroke-width="4.5"/>
<line x1="404.4" y1="142.9" x2="426.5" y2="142.9" stroke="#161816" stroke-width="4.5"/>
<line x1="2483.1" y1="1014.0" x2="2483.1" y2="995" stroke="#161816" stroke-width="4.5"/>
<line x1="2741.1" y1="1014.0" x2="2741.1" y2="995" stroke="#161816" stroke-width="4.5"/>
<line x1="2999.2" y1="1014.0" x2="2999.2" y2="995" stroke="#161816" stroke-width="4.5"/>
<line x1="3257.2" y1="1014.0" x2="3257.2" y2="995" stroke="#161816" stroke-width="4.5"/>
<line x1="3515.2" y1="1014.0" x2="3515.2" y2="995" stroke="#161816" stroke-width="4.5"/>
<line x1="2227.0" y1="768.8" x2="2249" y2="768.8" stroke="#161816" stroke-width="4.5"/>
<line x1="2227.0" y1="523.8" x2="2249" y2="523.8" stroke="#161816" stroke-width="4.5"/>
<line x1="2227.0" y1="278.9" x2="2249" y2="278.9" stroke="#161816" stroke-width="4.5"/>
</g>
<g id="labels">
<text x="380.5" y="1036.2" font-size="67" text-anchor="end">0</text>
<text x="380.5" y="818.5" font-size="67" text-anchor="end">500</text>
<text x="380.5" y="600.8" font-size="67" text-anchor="end">1 000</text>
<text x="380.5" y="383.1" font-size="67" text-anchor="end">1 500</text>
<text x="380.5" y="165.4" font-size="67" text-anchor="end">2 000</text>
<text x="595.6" y="1093.0" font-size="67" text-anchor="middle">0.02</text>
<text x="787.1" y="1093.0" font-size="67" text-anchor="middle">0.04</text>
<text x="978.5" y="1093.0" font-size="67" text-anchor="middle">0.06</text>
<text x="1169.9" y="1093.0" font-size="67" text-anchor="middle">0.08</text>
<text x="1361.4" y="1093.0" font-size="67" text-anchor="middle">0.10</text>
<text x="1552.8" y="1093.0" font-size="67" text-anchor="middle">0.12</text>
<text x="1744.2" y="1093.0" font-size="67" text-anchor="middle">0.14</text>
<text x="1113.5" y="1187.0" font-size="67" text-anchor="middle">Strain</text>
<text transform="translate(190,524.3) rotate(-90)" font-size="67.8" text-anchor="middle">Stress/MPa</text>
<text x="424.5" y="100.5" font-size="67">(a) Ferrium<tspan dx="-4"> S53</tspan></text>
<text x="2203.3" y="1036.2" font-size="67" text-anchor="end">0</text>
<text x="2203.3" y="791.2" font-size="67" text-anchor="end">300</text>
<text x="2203.3" y="546.3" font-size="67" text-anchor="end">600</text>
<text x="2203.3" y="301.4" font-size="67" text-anchor="end">900</text>
<text x="2203.3" y="56.4" font-size="67" text-anchor="end">1 200</text>
<text x="2483.1" y="1093.0" font-size="67" text-anchor="middle">0.02</text>
<text x="2741.1" y="1093.0" font-size="67" text-anchor="middle">0.04</text>
<text x="2999.2" y="1093.0" font-size="67" text-anchor="middle">0.06</text>
<text x="3257.2" y="1093.0" font-size="67" text-anchor="middle">0.08</text>
<text x="3515.2" y="1093.0" font-size="67" text-anchor="middle">0.10</text>
<text x="2937.3" y="1187.0" font-size="67" text-anchor="middle">Strain</text>
<text transform="translate(2019.4,522.2) rotate(-90)" font-size="67.8" text-anchor="middle">Stress/MPa</text>
<text x="2251" y="100.5" font-size="67">(b) <tspan x="2349.4" letter-spacing="-0.7">Ultrafort</tspan><tspan x="2593.8">401</tspan></text>
<text font-size="67"><tspan x="1529.5" y="514.1">10</tspan><tspan x="1595.4" y="491.1" font-size="40" stroke-width="0.2">−4</tspan><tspan x="1654.5" y="514.1">s</tspan><tspan x="1679.4" y="491.1" font-size="40" stroke-width="0.2">−1</tspan></text>
<text font-size="67"><tspan x="1529.5" y="605.1">10</tspan><tspan x="1595.4" y="582.1" font-size="40" stroke-width="0.2">−3</tspan><tspan x="1654.5" y="605.1">s</tspan><tspan x="1679.4" y="582.1" font-size="40" stroke-width="0.2">−1</tspan></text>
<text font-size="67"><tspan x="1529.5" y="696.1">10</tspan><tspan x="1595.4" y="673.1" font-size="40" stroke-width="0.2">−2</tspan><tspan x="1654.5" y="696.1">s</tspan><tspan x="1679.4" y="673.1" font-size="40" stroke-width="0.2">−1</tspan></text>
<text font-size="67"><tspan x="1528.5" y="786.8">7×10</tspan><tspan x="1666.9" y="763.8" font-size="40" stroke-width="0.2">−2</tspan><tspan x="1725.7" y="786.8">s</tspan><tspan x="1750.6" y="763.8" font-size="40" stroke-width="0.2">−1</tspan></text>
<text font-size="67"><tspan x="1529.5" y="877.8">10</tspan><tspan x="1613.7" y="877.8">s</tspan><tspan x="1638.4" y="854.8" font-size="40" stroke-width="0.2">−1</tspan></text>
<text font-size="67"><tspan x="1529.5" y="968.9">10</tspan><tspan x="1597.1" y="945.9" font-size="40" stroke-width="0.2">3</tspan><tspan x="1632.8" y="968.9">s</tspan><tspan x="1657.7" y="945.9" font-size="40" stroke-width="0.2">−1</tspan></text>
<text font-size="67"><tspan x="3354.3" y="514.1">10</tspan><tspan x="3420.2" y="491.1" font-size="40" stroke-width="0.2">−4</tspan><tspan x="3479.3" y="514.1">s</tspan><tspan x="3504.2" y="491.1" font-size="40" stroke-width="0.2">−1</tspan></text>
<text font-size="67"><tspan x="3354.3" y="605.1">10</tspan><tspan x="3420.2" y="582.1" font-size="40" stroke-width="0.2">−3</tspan><tspan x="3479.3" y="605.1">s</tspan><tspan x="3504.2" y="582.1" font-size="40" stroke-width="0.2">−1</tspan></text>
<text font-size="67"><tspan x="3354.3" y="696.1">10</tspan><tspan x="3420.2" y="673.1" font-size="40" stroke-width="0.2">−2</tspan><tspan x="3479.3" y="696.1">s</tspan><tspan x="3504.2" y="673.1" font-size="40" stroke-width="0.2">−1</tspan></text>
<text font-size="67"><tspan x="3353.3" y="786.8">7×10</tspan><tspan x="3491.7" y="763.8" font-size="40" stroke-width="0.2">−2</tspan><tspan x="3550.5" y="786.8">s</tspan><tspan x="3575.4" y="763.8" font-size="40" stroke-width="0.2">−1</tspan></text>
<text font-size="67"><tspan x="3354.3" y="877.8">10</tspan><tspan x="3438.5" y="877.8">s</tspan><tspan x="3463.2" y="854.8" font-size="40" stroke-width="0.2">−1</tspan></text>
<text font-size="67"><tspan x="3354.3" y="968.9">10</tspan><tspan x="3421.9" y="945.9" font-size="40" stroke-width="0.2">3</tspan><tspan x="3457.6" y="968.9">s</tspan><tspan x="3482.5" y="945.9" font-size="40" stroke-width="0.2">−1</tspan></text>
</g>
</svg>
</body></html>
